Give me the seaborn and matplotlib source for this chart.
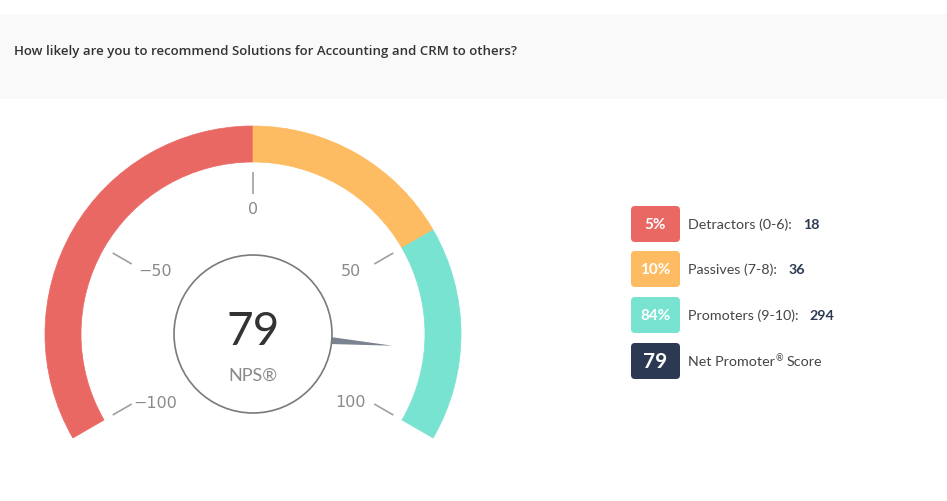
import numpy as np
import matplotlib.pyplot as plt
from matplotlib.patches import Wedge, Circle, FancyBboxPatch, Rectangle, Polygon
import seaborn as sns

QUESTION = "How likely are you to recommend Solutions for Accounting and CRM to others?"
NPS_SCORE = 79
SEGMENT_NAMES = ["Detractors (0-6):", "Passives (7-8):", "Promoters (9-10):"]
SEGMENT_COUNTS = [18, 36, 294]
SEGMENT_PCTS = ["5%", "10%", "84%"]
GAUGE_BOUNDS = [-100, 0, 50, 100]
GAUGE_TICKS = [-100, -50, 0, 50, 100]

W, H = 947, 502
GAUGE_CX, GAUGE_CY = 253, H - 335
R_OUT, ARC_W = 208, 36
SPAN = 1.2  # degrees per NPS point

sns.set_theme(style="white")
plt.rcParams["font.family"] = ["Lato", "DejaVu Sans"]
palette = sns.color_palette(["#ea6864", "#fdbb62", "#78e3d0"])
NAVY = "#2b3a52"


def to_theta(v):
    return 90 - SPAN * v


def polar(r, v, ry=None):
    th = np.radians(to_theta(v))
    ry = r if ry is None else ry
    return GAUGE_CX + r * np.cos(th), GAUGE_CY + ry * np.sin(th)


fig = plt.figure(figsize=(W / 100, H / 100), dpi=100)
ax = fig.add_axes([0, 0, 1, 1])
ax.set_xlim(0, W)
ax.set_ylim(0, H)
ax.set_aspect("equal")
ax.axis("off")

# header band
ax.add_patch(Rectangle((0, H - 100), W, 85, facecolor="#f9f9f9", edgecolor="none"))
ax.text(14, H - 52, QUESTION, fontsize=9.5, fontweight="semibold", color="#333333",
        va="center", ha="left", family=["Open Sans", "DejaVu Sans"])

# gauge arcs
for lo, hi, col in zip(GAUGE_BOUNDS[:-1], GAUGE_BOUNDS[1:], palette):
    ax.add_patch(Wedge((GAUGE_CX, GAUGE_CY), R_OUT, to_theta(hi), to_theta(lo),
                       width=ARC_W, facecolor=col, edgecolor=col, lw=0.5))

# ticks and labels (lower labels sit a bit further down than upper ones)
for v in GAUGE_TICKS:
    x0, y0 = polar(140, v)
    x1, y1 = polar(162, v)
    ax.plot([x0, x1], [y0, y1], color="#a0a0a0", lw=1.2, solid_capstyle="butt")
    lx, ly = polar(113, v, ry=126 if abs(v) < 100 else 136)
    ax.text(lx, ly, f"{v}".replace("-", "\u2212"), fontsize=11.5, color="#8a8a8a",
            ha="center", va="center", family=["DejaVu Sans"])

# needle
tip = np.array(polar(140, NPS_SCORE))
base = np.array(polar(78, NPS_SCORE))
th = np.radians(to_theta(NPS_SCORE))
perp = np.array([-np.sin(th), np.cos(th)]) * 3.5
ax.add_patch(Polygon([base + perp, tip, base - perp], closed=True,
                     facecolor="#7b8290", edgecolor="none", zorder=3))

# center dial
ax.add_patch(Circle((GAUGE_CX, GAUGE_CY), 79, facecolor="white", edgecolor="#7a7a7a",
                    lw=1.2, zorder=4))
ax.text(GAUGE_CX, GAUGE_CY + 3, str(NPS_SCORE), fontsize=33, fontweight="normal",
        color="#333333", ha="center", va="center", zorder=5)
ax.text(GAUGE_CX, GAUGE_CY - 41, "NPS®", fontsize=13, color="#8a8a8a",
        ha="center", va="center", zorder=5)

# legend
box_x, box_w, box_h = 631, 49, 36
row_y = [H - 225, H - 270, H - 316, H - 362]
box_cols = list(palette) + [NAVY]
box_txt = SEGMENT_PCTS + [str(NPS_SCORE)]
counts = SEGMENT_COUNTS + [None]
for i, (y, col, bt, cnt) in enumerate(zip(row_y, box_cols, box_txt, counts)):
    ax.add_patch(FancyBboxPatch((box_x, y - box_h / 2), box_w, box_h,
                                boxstyle="round,pad=0,rounding_size=4",
                                facecolor=col, edgecolor="none"))
    ax.text(box_x + box_w / 2, y, bt, color="white", fontweight="bold",
            fontsize=11 if cnt is not None else 15, ha="center", va="center")
    if cnt is not None:
        t = ax.text(688, y, SEGMENT_NAMES[i], color="#454545", fontsize=10.3,
                    ha="left", va="center")
        ax.annotate(str(cnt), xy=(1, 0.5), xycoords=t, xytext=(8, 0),
                    textcoords="offset points", color=NAVY, fontweight="bold",
                    fontsize=10.3, ha="left", va="center")
    else:
        t = ax.text(688, y, "Net Promoter", color="#454545", fontsize=10.3,
                    ha="left", va="center")
        ax.annotate("®", xy=(1, 0.75), xycoords=t, xytext=(0.5, 0),
                    textcoords="offset points", color="#454545", fontsize=6.5,
                    ha="left", va="center")
        ax.annotate("Score", xy=(1, 0.5), xycoords=t, xytext=(8.5, 0),
                    textcoords="offset points", color="#454545", fontsize=10.3,
                    ha="left", va="center")

fig.savefig("out.png", dpi=100, facecolor="white")
